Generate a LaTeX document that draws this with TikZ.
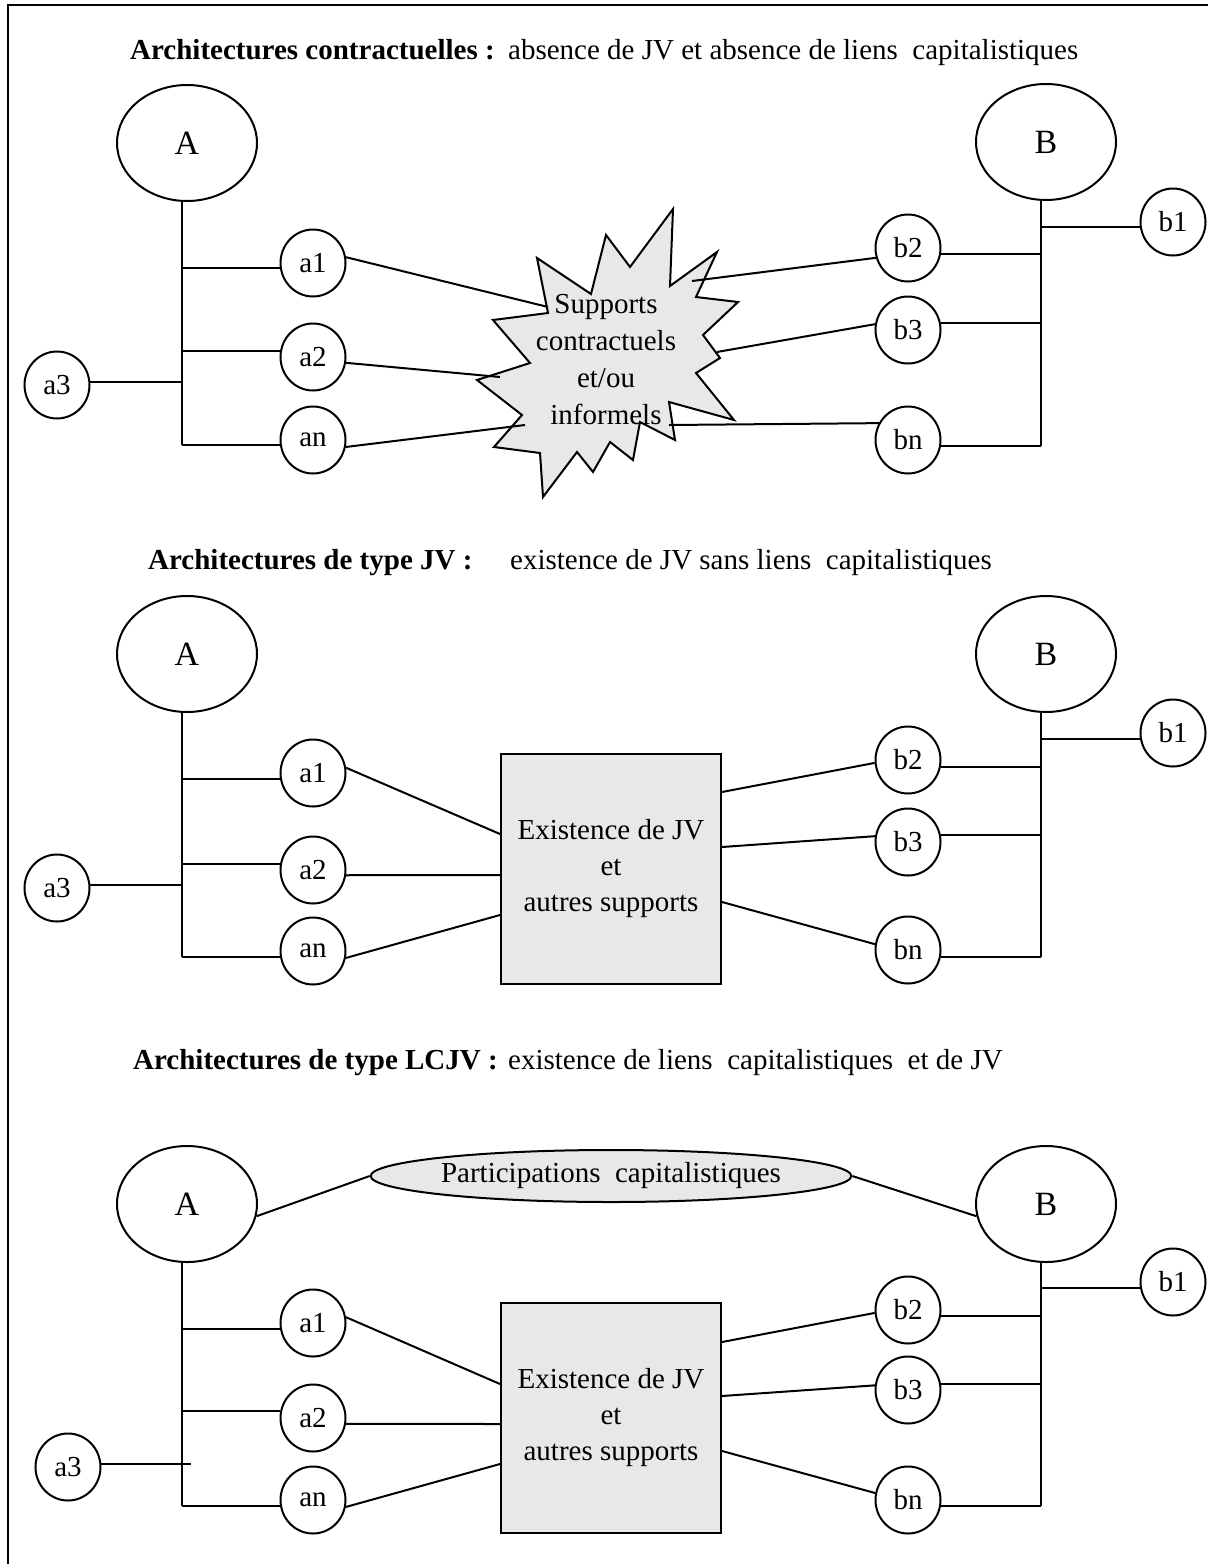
\documentclass[tikz,border=0pt]{standalone}
\usepackage{fontspec}
\setmainfont{Liberation Serif}
\usetikzlibrary{shapes.geometric,calc}
\definecolor{boxgray}{RGB}{232,232,232}
\begin{document}
\begin{tikzpicture}[x=1pt,y=-1pt,
  every node/.style={inner sep=0pt},
  ln/.style={line width=2pt},
  big/.style={draw, ellipse, line width=2pt, minimum width=140pt, minimum height=116pt, font=\fontsize{34}{40}\selectfont},
  sm/.style={draw, ellipse, line width=2pt, minimum width=65pt, minimum height=67pt, font=\fontsize{29}{34}\selectfont},
  jv/.style={draw, fill=boxgray, line width=2pt, minimum width=220pt, minimum height=230pt, align=center, font=\fontsize{29}{36}\selectfont},
  ttlb/.style={anchor=base west, font=\fontsize{29}{35}\selectfont\bfseries},
  ttl/.style={anchor=base west, font=\fontsize{29}{35}\selectfont},
  txt/.style={align=center, font=\fontsize{29}{37}\selectfont},
]
\useasboundingbox (0,0) rectangle (1208,1564);
% frame
\coordinate (fBL) at (8,1564);
\coordinate (fTL) at (8,5);
\coordinate (fTR) at (1208,5);
\draw[ln] (fBL) -- (fTL) -- (fTR);

% ---------------- Section 1 ----------------
\node[ttlb] (t1b) at (130,59) {Architectures contractuelles :};
\node[ttl] (t1) at (508,59) {absence de JV et absence de liens~ capitalistiques};

\node[big] (A-1) at (187,143) {A};
\node[big] (B-1) at (1046,142) {B};
\node[sm] (a1-1) at (313,263) {a1};
\node[sm] (a2-1) at (313,357) {a2};
\node[sm] (an-1) at (313,440) {an};
\node[sm] (a3-1) at (57,385) {a3};
\node[sm] (b1-1) at (1173,222) {b1};
\node[sm] (b2-1) at (908,248) {b2};
\node[sm] (b3-1) at (908,330) {b3};
\node[sm] (bn-1) at (908,440) {bn};

\draw[ln] (A-1.265) -- (A-1.265 |- an-1.189);
\draw[ln] (a1-1.189) -- (a1-1.189 -| A-1.265);
\draw[ln] (a2-1.170) -- (a2-1.170 -| A-1.265);
\draw[ln] (an-1.189) -- (an-1.189 -| A-1.265);
\draw[ln] (a3-1.5) -- (a3-1.5 -| A-1.265);
\draw[ln] (B-1.265) -- (B-1.265 |- bn-1.350);
\draw[ln] (b1-1.189) -- (b1-1.189 -| B-1.265);
\draw[ln] (b2-1.350) -- (b2-1.350 -| B-1.265);
\draw[ln] (b3-1.12) -- (b3-1.12 -| B-1.265);
\draw[ln] (bn-1.350) -- (bn-1.350 -| B-1.265);

\draw[ln, fill=boxgray, line join=miter] (673,209) -- (670,286) -- (717,252) -- (696,297) -- (738,302)
  -- (703,335) -- (720,358) -- (696,373) -- (734,420) -- (669,402) -- (675,440)
  -- (640,422) -- (633,460) -- (610,442) -- (593,472) -- (577,452) -- (543,497)
  -- (540,453) -- (494,447) -- (522,415) -- (477,380) -- (530,363) -- (493,320)
  -- (548,313) -- (537,258) -- (591,294) -- (606,235) -- (630,267) -- cycle;
\coordinate (s-a1) at (548,307);
\coordinate (s-a2) at (500,377);
\coordinate (s-an) at (525,425);
\coordinate (s-b2) at (692,281);
\coordinate (s-b3) at (717,352);
\coordinate (s-bn) at (669,425);
\draw[ln] (a1-1.10) -- (s-a1);
\draw[ln] (a2-1.350) -- (s-a2);
\draw[ln] (an-1.348) -- (s-an);
\draw[ln] (b2-1.197) -- (s-b2);
\draw[ln] (b3-1.170) -- (s-b3);
\draw[ln] (bn-1.150) -- (s-bn);
\node[txt] (S-1) at (606,360) {Supports\\contractuels\\et/ou\\informels};

% ---------------- Section 2 ----------------
\node[ttlb] (t2b) at (148,569) {Architectures de type JV :};
\node[ttl] (t2) at (510,569) {existence de JV sans liens~ capitalistiques};

\node[big] (A-2) at (187,654) {A};
\node[big] (B-2) at (1046,654) {B};
\node[sm] (a1-2) at (313,773) {a1};
\node[sm] (a2-2) at (313,870) {a2};
\node[sm] (an-2) at (313,951) {an};
\node[sm] (a3-2) at (57,888) {a3};
\node[sm] (b1-2) at (1173,733) {b1};
\node[sm] (b2-2) at (908,760) {b2};
\node[sm] (b3-2) at (908,842) {b3};
\node[sm] (bn-2) at (908,950) {bn};
\node[jv] (J-2) at (611,869) {Existence de JV\\et\\autres supports};

\draw[ln] (A-2.265) -- (A-2.265 |- an-2.190);
\draw[ln] (a1-2.190) -- (a1-2.190 -| A-2.265);
\draw[ln] (a2-2.170) -- (a2-2.170 -| A-2.265);
\draw[ln] (an-2.190) -- (an-2.190 -| A-2.265);
\draw[ln] (a3-2.5) -- (a3-2.5 -| A-2.265);
\draw[ln] (B-2.265) -- (B-2.265 |- bn-2.348);
\draw[ln] (b1-2.190) -- (b1-2.190 -| B-2.265);
\draw[ln] (b2-2.348) -- (b2-2.348 -| B-2.265);
\draw[ln] (b3-2.12) -- (b3-2.12 -| B-2.265);
\draw[ln] (bn-2.348) -- (bn-2.348 -| B-2.265);

\draw[ln] (a1-2.9) -- ([yshift=35pt]J-2.west);
\draw[ln] (a2-2.351) -- ([yshift=-6pt]J-2.west);
\draw[ln] (an-2.348) -- ([yshift=-46pt]J-2.west);
\draw[ln] ([yshift=77pt]J-2.east) -- (b2-2.185);
\draw[ln] ([yshift=22pt]J-2.east) -- (b3-2.170);
\draw[ln] ([yshift=-33pt]J-2.east) -- (bn-2.170);

% ---------------- Section 3 ----------------
\node[ttlb] (t3b) at (133,1069) {Architectures de type LCJV :};
\node[ttl] (t3) at (508,1069) {existence de liens~ capitalistiques~ et de JV};

\node[big] (A-3) at (187,1204) {A};
\node[big] (B-3) at (1046,1204) {B};
\node[draw, ellipse, fill=boxgray, line width=2pt, minimum width=411pt, minimum height=52pt, font=\fontsize{29}{35}\selectfont] (P-3) at (611,1176) {Participations~ capitalistiques};
\node[sm] (a1-3) at (313,1323) {a1};
\node[sm] (a2-3) at (313,1418) {a2};
\node[sm] (an-3) at (313,1500) {an};
\node[sm] (a3-3) at (68,1467) {a3};
\node[sm] (b1-3) at (1173,1282) {b1};
\node[sm] (b2-3) at (908,1310) {b2};
\node[sm] (b3-3) at (908,1390) {b3};
\node[sm] (bn-3) at (908,1500) {bn};
\node[jv] (J-3) at (611,1418) {Existence de JV\\et\\autres supports};

\draw[ln] (A-3.350) -- (P-3.west);
\draw[ln] (P-3.east) -- (B-3.190);

\draw[ln] (A-3.265) -- (A-3.265 |- an-3.190);
\draw[ln] (a1-3.190) -- (a1-3.190 -| A-3.265);
\draw[ln] (a2-3.168) -- (a2-3.168 -| A-3.265);
\draw[ln] (an-3.190) -- (an-3.190 -| A-3.265);
\draw[ln] (a3-3.5) -- ($(a3-3.5 -| A-3.265)+(9,0)$);
\draw[ln] (B-3.265) -- (B-3.265 |- bn-3.350);
\draw[ln] (b1-3.190) -- (b1-3.190 -| B-3.265);
\draw[ln] (b2-3.350) -- (b2-3.350 -| B-3.265);
\draw[ln] (b3-3.10) -- (b3-3.10 -| B-3.265);
\draw[ln] (bn-3.350) -- (bn-3.350 -| B-3.265);

\draw[ln] (a1-3.10) -- ([yshift=34pt]J-3.west);
\draw[ln] (a2-3.350) -- ([yshift=-6pt]J-3.west);
\draw[ln] (an-3.348) -- ([yshift=-46pt]J-3.west);
\draw[ln] ([yshift=76pt]J-3.east) -- (b2-3.185);
\draw[ln] ([yshift=22pt]J-3.east) -- (b3-3.172);
\draw[ln] ([yshift=-33pt]J-3.east) -- (bn-3.168);
\end{tikzpicture}
\end{document}
